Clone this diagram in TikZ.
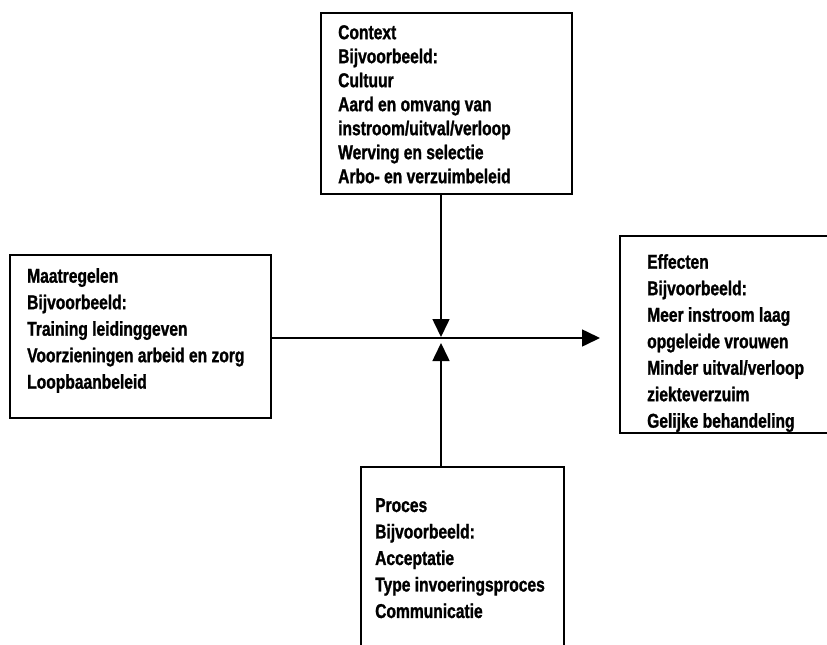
\documentclass[tikz,border=0pt]{standalone}
\usepackage{fontspec}
\setmainfont{Liberation Sans}[FakeStretch=0.78,FakeBold=1.2]
\usetikzlibrary{arrows.meta}
\begin{document}
\begin{tikzpicture}[x=1pt,y=-1pt,
  box/.style={draw=black,line width=1.6pt,rectangle,inner sep=0pt,anchor=north west},
  txt/.style={inner sep=0pt,anchor=north west,align=left,font=\fontsize{20}{24}\selectfont\bfseries},
  txtw/.style={txt,font=\fontsize{20}{26.5}\selectfont\bfseries},
  conn/.style={line width=1.6pt,-{Triangle[width=17pt,length=18pt]}}]
\useasboundingbox (0,0) rectangle (827,645);
\clip (0,0) rectangle (827,645);
\fill[white] (0,0) rectangle (827,645);
% boxes
\node[box,minimum width=251pt,minimum height=181pt] (ctx) at (320,12) {};
\node[box,minimum width=261pt,minimum height=163pt] (maat) at (9,254) {};
\node[box,minimum width=300pt,minimum height=197pt] (eff) at (619,235) {};
\node[box,minimum width=203pt,minimum height=220pt] (proc) at (360,466) {};
% texts
\node[txt] (ctxt) at (338,25) {Context\\Bijvoorbeeld:\\Cultuur\\Aard en omvang van\\instroom/uitval/verloop\\Werving en selectie\\Arbo- en verzuimbeleid};
\node[txtw] (maatt) at (27,268) {Maatregelen\\Bijvoorbeeld:\\Training leidinggeven\\Voorzieningen arbeid en zorg\\Loopbaanbeleid};
\node[txtw] (efft) at (647,254) {Effecten\\Bijvoorbeeld:\\Meer instroom laag\\opgeleide vrouwen\\Minder uitval/verloop\\ziekteverzuim\\Gelijke behandeling};
\node[txtw] (proct) at (375,498) {Proces\\Bijvoorbeeld:\\Acceptatie\\Type invoeringsproces\\Communicatie};
% connector ends
\coordinate (tipdown) at (441,337);
\coordinate (tipup) at (441,343);
\coordinate (tipright) at (600,338);
\draw[conn] (tipdown |- ctx.south) -- (tipdown);
\draw[conn] (tipup |- proc.north) -- (tipup);
\draw[conn] (maat.east |- tipright) -- (tipright);
\end{tikzpicture}
\end{document}
